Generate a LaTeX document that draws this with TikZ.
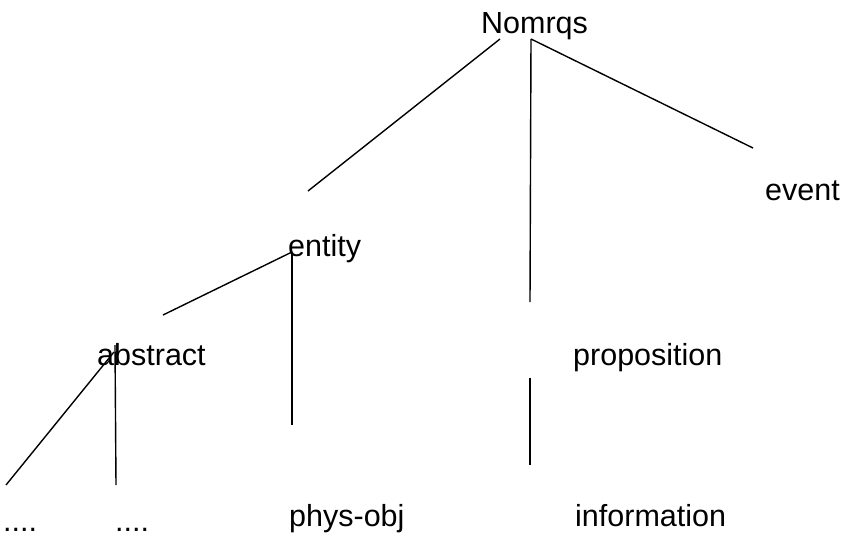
\documentclass[tikz,border=0pt]{standalone}
\usepackage{fontspec}
\setmainfont{Liberation Sans}
\begin{document}
\begin{tikzpicture}[x=1pt,y=-1pt,
  lbl/.style={anchor=base west,inner sep=0pt,font=\fontsize{30.5}{32}\selectfont},
  edge/.style={line width=1.4pt,black}]
\useasboundingbox (0,0) rectangle (844,536);
% labels
\node[lbl] (nom)   at (481,33)  {Nomrqs};
\node[lbl] (event) at (765,200) {event};
\node[lbl] (ent)   at (288,256) {entity};
\node[lbl] (abs)   at (97,365)  {abstract};
\node[lbl] (prop)  at (573,365) {proposition};
\node[lbl] (d1)    at (3,531)   {....};
\node[lbl] (d2)    at (115,531) {....};
\node[lbl] (phys)  at (289,526) {phys-obj};
\node[lbl] (info)  at (575,526) {information};
% branch end points
\coordinate (nomL) at (500,39);
\coordinate (nomM) at (531,39);
\coordinate (entL) at (308,191);
\coordinate (propT) at (530,302);
\coordinate (evL) at (753,148);
\coordinate (entJ) at (292,252);
\coordinate (absR) at (163,315);
\coordinate (physT) at (292,425);
\coordinate (absJ) at (114,352);
\coordinate (absV) at (115,345);
\coordinate (d1T) at (6,485);
\coordinate (d2T) at (116,485);
\coordinate (propB) at (530,378);
\coordinate (infoT) at (530,465);
% branches
\draw[edge] (nomL) -- (entL);
\draw[edge] (nomM) -- (propT);
\draw[edge] (nomM) -- (evL);
\draw[edge] (entJ) -- (absR);
\draw[edge] (entJ) -- (physT);
\draw[edge] (absJ) -- (d1T);
\draw[edge] (absV) -- (d2T);
\draw[edge] (propB) -- (infoT);
\end{tikzpicture}
\end{document}
